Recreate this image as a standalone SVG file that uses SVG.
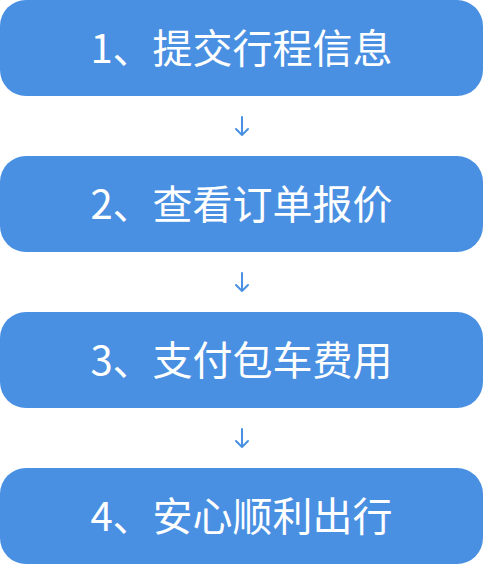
<svg xmlns="http://www.w3.org/2000/svg" width="483" height="564" viewBox="0 0 483 564">
<style>
.box{fill:#4A90E2}
.t{fill:#fff;font-family:"Noto Sans CJK SC","Noto Sans",sans-serif;font-size:40px;text-anchor:middle}
.c{stroke:#4A90E2;stroke-width:2;fill:none;stroke-linecap:round;stroke-linejoin:round}
</style>
<rect width="483" height="564" fill="#fff"/>
<g id="n1"><rect class="box" x="0" y="0" width="483" height="96" rx="26"/><text class="t" x="241.5" y="63">1、提交行程信息</text></g>
<g id="n2"><rect class="box" x="0" y="156" width="483" height="96" rx="26"/><text class="t" x="241.5" y="219">2、查看订单报价</text></g>
<g id="n3"><rect class="box" x="0" y="312" width="483" height="96" rx="26"/><text class="t" x="241.5" y="375">3、支付包车费用</text></g>
<g id="n4"><rect class="box" x="0" y="468" width="483" height="96" rx="26"/><text class="t" x="241.5" y="531">4、安心顺利出行</text></g>
<g id="connectors">
<path class="c" d="M242 117V135M236 129L242 135L248 129"/>
<path class="c" d="M242 273V291M236 285L242 291L248 285"/>
<path class="c" d="M242 429V447M236 441L242 447L248 441"/>
</g>
</svg>
